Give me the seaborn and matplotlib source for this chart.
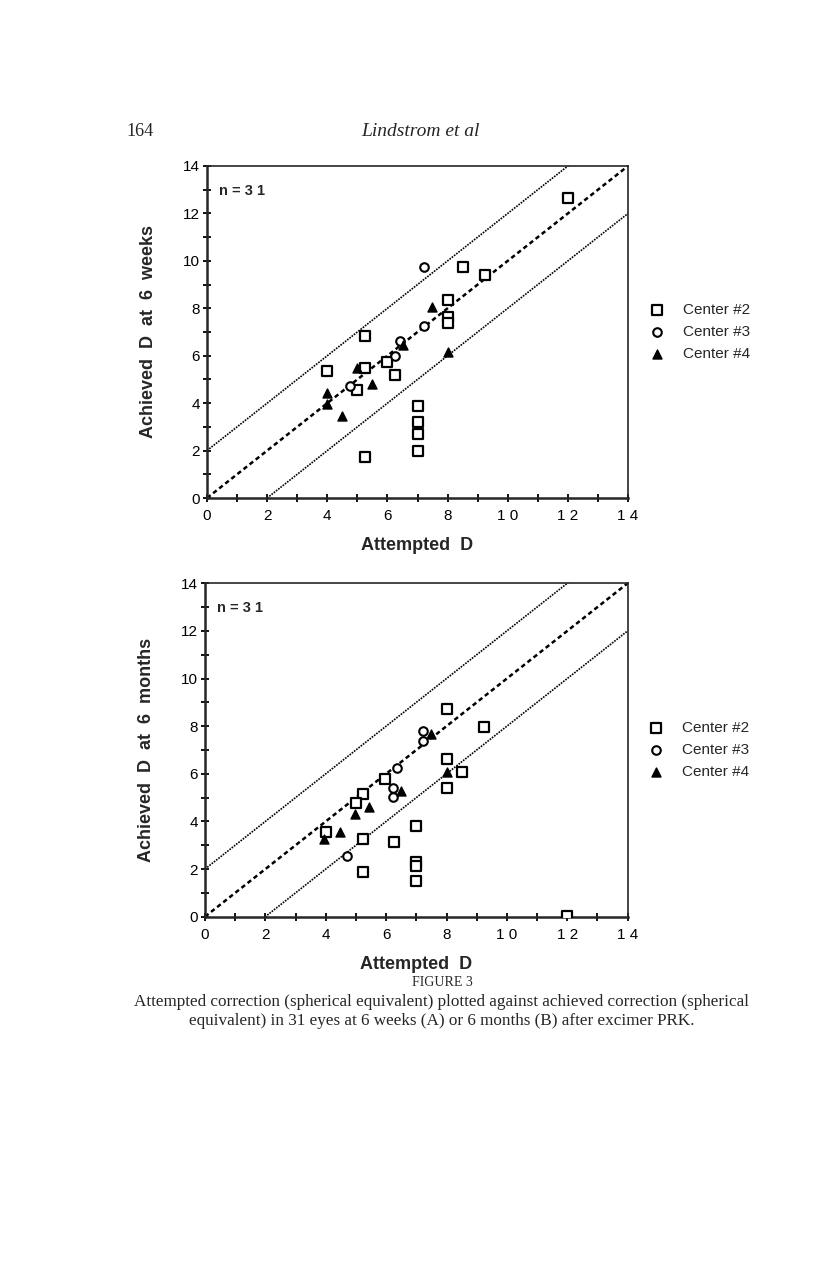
import numpy as np
import matplotlib
matplotlib.use("Agg")
import matplotlib.pyplot as plt
import seaborn as sns
from matplotlib.ticker import MultipleLocator

# Panel A: 6 weeks
c2_wk_x = [12.0, 8.5, 9.25, 8.0, 8.0, 8.0, 5.25, 4.0, 5.25, 6.0, 6.25, 5.0, 7.0, 7.0, 7.0, 7.0, 5.25]
c2_wk_y = [12.65, 9.75, 9.4, 8.35, 7.65, 7.38, 6.85, 5.35, 5.47, 5.75, 5.2, 4.57, 3.87, 3.21, 2.7, 2.0, 1.74]
c3_wk_x = [7.23, 7.23, 6.4, 6.25, 4.75]
c3_wk_y = [9.75, 7.24, 6.6, 6.0, 4.71]
c4_wk_x = [7.48, 6.5, 8.0, 5.0, 5.48, 4.0, 4.0, 4.5]
c4_wk_y = [8.04, 6.44, 6.17, 5.47, 4.82, 4.44, 3.98, 3.47]

# Panel B: 6 months
c2_mo_x = [12.0, 8.0, 9.25, 8.0, 8.5, 8.0, 5.95, 5.25, 5.0, 4.0, 5.25, 6.25, 7.0, 7.0, 7.0, 7.0, 5.25]
c2_mo_y = [0.03, 8.74, 7.98, 6.64, 6.06, 5.42, 5.8, 5.17, 4.76, 3.54, 3.26, 3.14, 3.8, 2.31, 2.13, 1.51, 1.89]
c3_mo_x = [7.21, 7.21, 6.37, 6.23, 6.23, 4.72]
c3_mo_y = [7.8, 7.39, 6.26, 5.42, 5.01, 2.56]
c4_mo_x = [7.47, 8.0, 6.48, 5.44, 4.98, 4.47, 3.94]
c4_mo_y = [7.66, 6.06, 5.29, 4.62, 4.3, 3.54, 3.25]

centers = ["Center #2", "Center #3", "Center #4"]
guide_offsets = [2, 0, -2]
tick_vals = [0, 2, 4, 6, 8, 10, 12, 14]
x_tick_labels = ["0", "2", "4", "6", "8", "1 0", "1 2", "1 4"]
y_tick_labels = ["0", "2", "4", "6", "8", "10", "12", "14"]

sns.set_style("ticks")
plt.rcParams["font.family"] = ["Liberation Sans", "DejaVu Sans"]

fig = plt.figure(figsize=(8.16, 12.63), dpi=100)

marker_styles = {
    "Center #2": dict(marker="s", facecolor="white", edgecolor="black", s=42, linewidth=1.6),
    "Center #3": dict(marker="o", facecolor="white", edgecolor="black", s=38, linewidth=1.5),
    "Center #4": dict(marker="^", facecolor="black", edgecolor="black", s=42, linewidth=1.0),
}


def draw_panel(ax, series, ylabel):
    gx = np.array([0, 14])
    for off in guide_offsets:
        if off == 0:
            # line of perfect correction
            ax.plot(gx, gx + off, color="black", linestyle=(0, (1.8, 1.3)), linewidth=1.8, zorder=1)
        else:
            ax.plot(gx, gx + off, color="black", linestyle=(0, (1, 0.7)), linewidth=1.2, zorder=1)
    for name, (xs, ys) in zip(centers, series):
        sns.scatterplot(x=xs, y=ys, ax=ax, label=name, zorder=3, **marker_styles[name])
    ax.set_xlim(0, 14)
    ax.set_ylim(0, 14)
    ax.set_xticks(tick_vals)
    ax.set_xticklabels(x_tick_labels, fontsize=11)
    ax.set_yticks(tick_vals)
    ax.set_yticklabels(y_tick_labels, fontsize=11)
    ax.xaxis.set_minor_locator(MultipleLocator(1))
    ax.yaxis.set_minor_locator(MultipleLocator(1))
    ax.tick_params(which="both", direction="inout", length=6, width=1.3, colors="black")
    ax.tick_params(axis="x", pad=5)
    ax.tick_params(axis="y", pad=2)
    for side in ["left", "bottom"]:
        ax.spines[side].set_linewidth(1.8)
    for side in ["top", "right"]:
        ax.spines[side].set_linewidth(1.2)
    ax.set_xlabel("Attempted  D", fontsize=13, fontweight="bold")
    ax.set_ylabel(ylabel, fontsize=13, fontweight="bold")
    ax.xaxis.set_label_coords(0.5, -0.118)
    ax.yaxis.set_label_coords(-0.118, 0.5)
    ax.text(0.028, 0.925, "n = 3 1", transform=ax.transAxes, fontsize=10.5, fontweight="bold", va="center")
    ax.legend(loc="center left", bbox_to_anchor=(1.035, 0.5), frameon=False, fontsize=11,
              handletextpad=1.2, labelspacing=0.55, handlelength=1.0, borderaxespad=0)


ax1 = fig.add_axes([0.2537, 0.6057, 0.516, 0.2629])
draw_panel(ax1, [(c2_wk_x, c2_wk_y), (c3_wk_x, c3_wk_y), (c4_wk_x, c4_wk_y)],
           "Achieved  D  at  6  weeks")

ax2 = fig.add_axes([0.2512, 0.2742, 0.518, 0.264])
draw_panel(ax2, [(c2_mo_x, c2_mo_y), (c3_mo_x, c3_mo_y), (c4_mo_x, c4_mo_y)],
           "Achieved  D  at  6  months")

# page header and caption
serif = ["Liberation Serif", "DejaVu Serif"]
fig.text(126 / 816, 1 - 132 / 1263, "164", fontsize=13, family=serif, va="center")
fig.text(420 / 816, 1 - 132 / 1263, "Lindstrom et al", fontsize=14, family=serif, style="italic",
         ha="center", va="center")
fig.text(442 / 816, 1 - 983 / 1263, "FIGURE 3", fontsize=10, family=serif, ha="center", va="center")
fig.text(442 / 816, 1 - 1002 / 1263,
         "Attempted correction (spherical equivalent) plotted against achieved correction (spherical",
         fontsize=12.3, family=serif, ha="center", va="center")
fig.text(442 / 816, 1 - 1021 / 1263,
         "equivalent) in 31 eyes at 6 weeks (A) or 6 months (B) after excimer PRK.",
         fontsize=12.3, family=serif, ha="center", va="center")

fig.savefig("out.png", dpi=100, facecolor="white")
